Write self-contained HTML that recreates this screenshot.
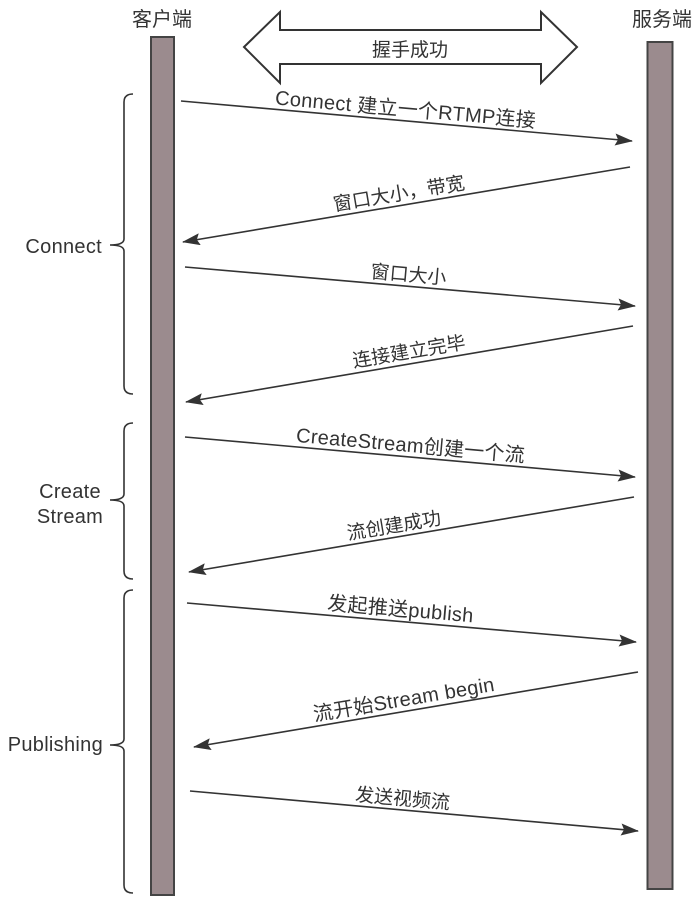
<!DOCTYPE html>
<html><head><meta charset="utf-8"><style>
html,body{margin:0;padding:0;background:#fff;}
svg{display:block;}
text{font-family:"Liberation Sans","Noto Sans CJK SC",sans-serif;font-size:19px;fill:#333;}
.l{font-size:20px;letter-spacing:0.3px;}
</style></head><body>
<svg width="692" height="902" viewBox="0 0 692 902" xmlns="http://www.w3.org/2000/svg">
<defs>
<marker id="ah" viewBox="0 0 18 12" refX="17" refY="6" markerWidth="18" markerHeight="12" markerUnits="userSpaceOnUse" orient="auto">
<path d="M0,0 L18,6 L0,12 L3,6 Z" fill="#333"/>
</marker>
</defs>
<text x="162" y="26" text-anchor="middle" style="font-size:20px">客户端</text>
<text x="662" y="26" text-anchor="middle" style="font-size:20px">服务端</text>
<rect x="151" y="37" width="23" height="858" fill="#9b8b8e" stroke="#444" stroke-width="2"/>
<rect x="647.5" y="42" width="25" height="847" fill="#9b8b8e" stroke="#444" stroke-width="2"/>
<path d="M244,47 L280,12 L280,30 L541,30 L541,12 L577,47 L541,83 L541,64 L280,64 L280,83 Z" fill="#fff" stroke="#333" stroke-width="2" stroke-linejoin="miter"/>
<text x="410" y="56" text-anchor="middle">握手成功</text>
<g stroke="#333" stroke-width="1.6" fill="none">
<path d="M133,94 Q124,94 124,102 L124,239 Q124,245 110,245 Q124,245 124,251 L124,386 Q124,394 133,394"/>
<path d="M133,423 Q124,423 124,431 L124,494 Q124,500 110,500 Q124,500 124,506 L124,571 Q124,579 133,579"/>
<path d="M133,590 Q124,590 124,598 L124,739 Q124,745 110,745 Q124,745 124,751 L124,885 Q124,893 133,893"/>
</g>
<text class="l" x="102" y="253" text-anchor="end">Connect</text>
<text class="l" x="70" y="498" text-anchor="middle">Create</text>
<text class="l" x="70" y="523" text-anchor="middle">Stream</text>
<text class="l" x="103" y="751" text-anchor="end">Publishing</text>
<g stroke="#333" stroke-width="1.6" marker-end="url(#ah)">
<line x1="181" y1="101" x2="632" y2="141"/>
<line x1="630" y1="167" x2="183" y2="242"/>
<line x1="185" y1="267" x2="635" y2="306"/>
<line x1="633" y1="326" x2="186" y2="402"/>
<line x1="185" y1="437" x2="635" y2="477"/>
<line x1="634" y1="497" x2="189" y2="572"/>
<line x1="187" y1="603" x2="636" y2="642"/>
<line x1="638" y1="672" x2="194" y2="747"/>
<line x1="190" y1="791" x2="638" y2="831"/>
</g>
<text class="l" text-anchor="middle" transform="translate(405,116) rotate(5.07)">Connect 建立一个RTMP连接</text>
<text text-anchor="middle" transform="translate(400,200) rotate(-9.52)">窗口大小，带宽</text>
<text text-anchor="middle" transform="translate(408,281) rotate(4.95)">窗口大小</text>
<text text-anchor="middle" transform="translate(410,358) rotate(-9.65)">连接建立完毕</text>
<text class="l" text-anchor="middle" transform="translate(410,452) rotate(5.08)">CreateStream创建一个流</text>
<text text-anchor="middle" transform="translate(395,532) rotate(-9.57)">流创建成功</text>
<text class="l" text-anchor="middle" transform="translate(400,616) rotate(4.96)">发起推送publish</text>
<text class="l" text-anchor="middle" transform="translate(405,706) rotate(-9.59)">流开始Stream begin</text>
<text text-anchor="middle" transform="translate(402,805) rotate(5.1)">发送视频流</text>
</svg>
</body></html>
